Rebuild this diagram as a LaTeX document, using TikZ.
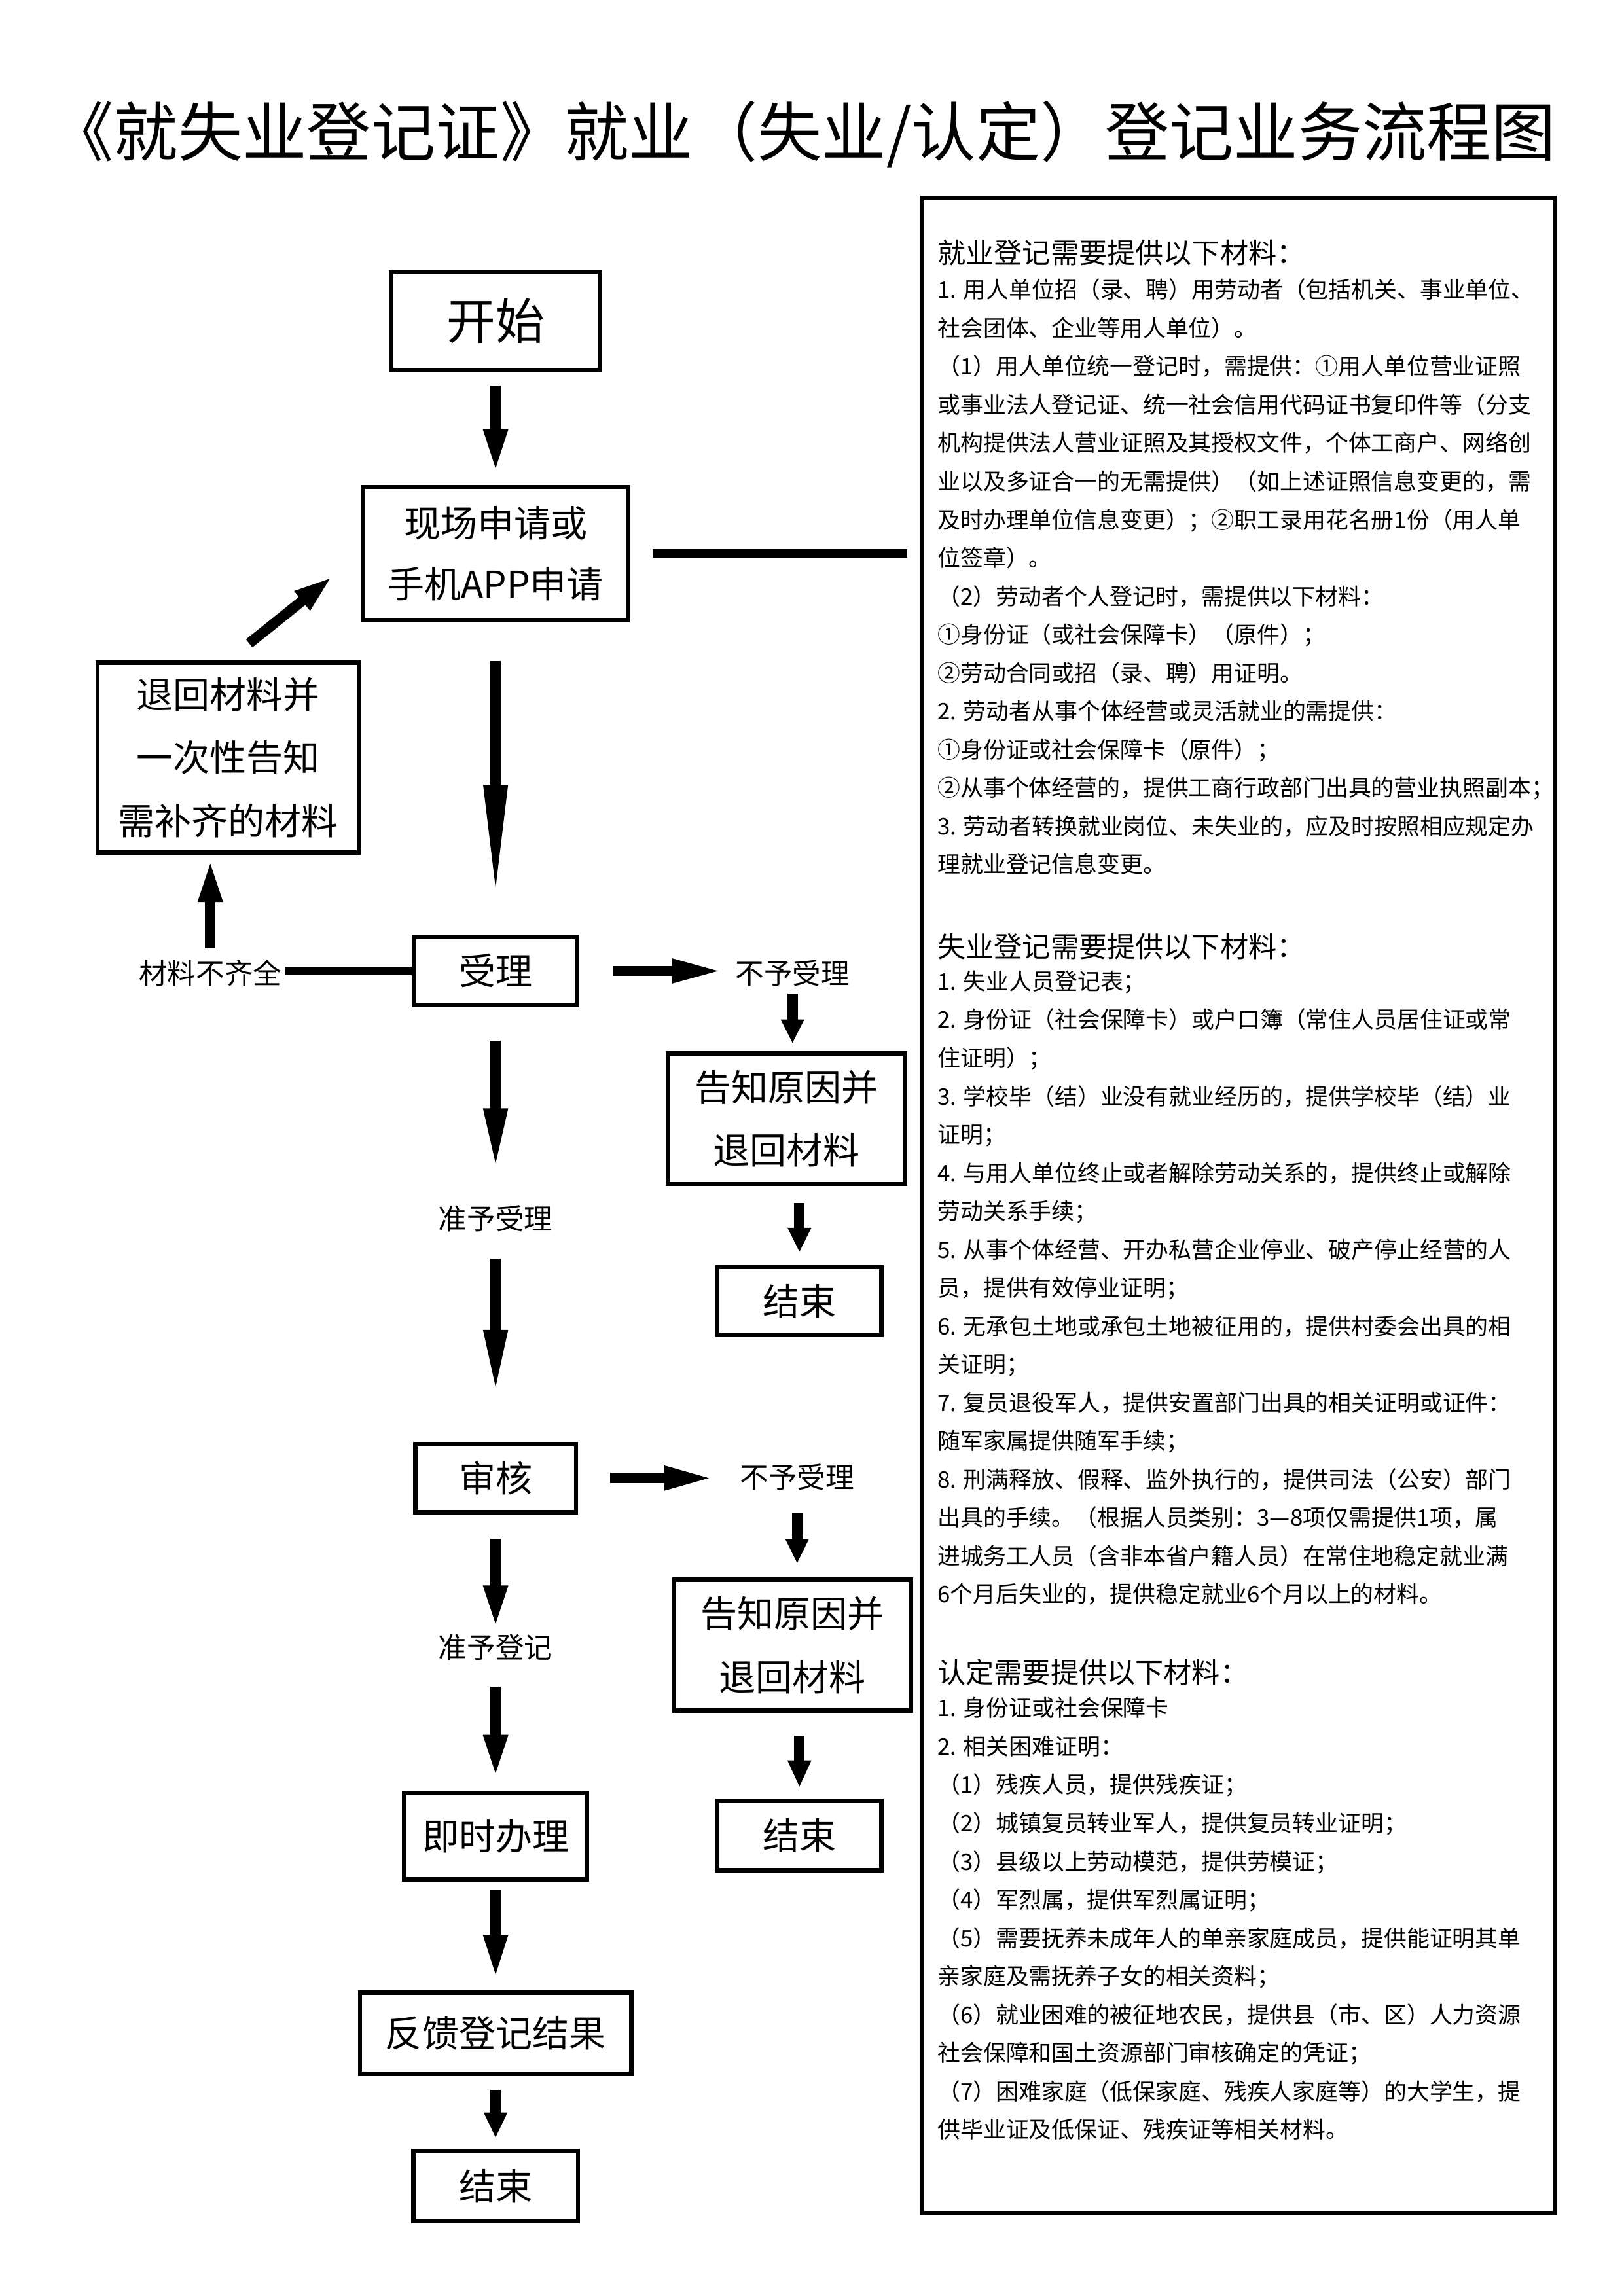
\documentclass[tikz,border=0pt]{standalone}
\usepackage{fontspec}
\setmainfont{Noto Sans CJK SC}
\usetikzlibrary{arrows.meta}

\begin{document}
\begin{tikzpicture}[
    regFlowBox/.style={draw, line width=1.6pt, inner sep=0pt, align=center,
        font=\fontsize{13.5}{22.5}\selectfont},
    regFlowLabel/.style={inner sep=1pt, font=\fontsize{10.5}{12}\selectfont},
    regFlowArrow/.style={line width=3.8pt, -{Triangle[length=#1, width=8pt]}},
    regFlowArrow/.default=0.56cm,
    regFlowLink/.style={line width=3.2pt},
    regFlowPanel/.style={draw, line width=1.4pt, inner sep=0pt},
    regFlowHead/.style={anchor=base west, inner sep=0pt,
        font=\fontsize{10.4}{12}\selectfont},
    regFlowBody/.style={anchor=north west, inner sep=0pt, align=left,
        font=\fontsize{8.4}{14.1}\selectfont}
]
    \useasboundingbox (0,0) rectangle (21,29.7);

    % 标题
    \node[font=\fontsize{23.7}{28}\selectfont] (title) at (10.38, 27.96)
        {《就失业登记证》就业（失业/认定）登记业务流程图};

    % 主流程
    \node[regFlowBox, minimum width=2.70cm, minimum height=1.27cm,
        font=\fontsize{18}{22}\selectfont] (start) at (6.41, 25.55) {开始};
    \node[regFlowBox, minimum width=3.42cm, minimum height=1.72cm] (apply)
        at (6.41, 22.54) {现场申请或\\手机APP申请};
    \node[regFlowBox, minimum width=2.11cm, minimum height=0.88cm] (accept)
        at (6.41, 17.14) {受理};
    \node[regFlowLabel] (grant1) at (6.41, 13.94) {准予受理};
    \node[regFlowBox, minimum width=2.08cm, minimum height=0.88cm] (review)
        at (6.41, 10.58) {审核};
    \node[regFlowLabel] (grant2) at (6.41, 8.39) {准予登记};
    \node[regFlowBox, minimum width=2.36cm, minimum height=1.12cm] (handle)
        at (6.41, 5.95) {即时办理};
    \node[regFlowBox, minimum width=3.51cm, minimum height=1.05cm] (feedback)
        at (6.41, 3.40) {反馈登记结果};
    \node[regFlowBox, minimum width=2.13cm, minimum height=0.91cm] (finish)
        at (6.41, 1.42) {结束};

    \draw[regFlowArrow=0.57cm, shorten <=0.17cm, shorten >=0.15cm] (start) -- (apply);
    \draw[regFlowArrow=1.49cm, shorten <=0.50cm, shorten >=0.45cm] (apply) -- (accept);
    \draw[regFlowArrow=0.80cm, shorten <=0.43cm, shorten >=0.41cm] (accept) -- (grant1);
    \draw[regFlowArrow=0.83cm, shorten <=0.31cm, shorten >=0.62cm] (grant1) -- (review);
    \draw[regFlowArrow, shorten <=0.32cm, shorten >=0.03cm] (review) -- (grant2);
    \draw[regFlowArrow, shorten <=0.30cm, shorten >=0.16cm] (grant2) -- (handle);
    \draw[regFlowArrow=0.58cm, shorten <=0.11cm, shorten >=0.14cm] (handle) -- (feedback);
    \draw[regFlowArrow=0.33cm, shorten <=0.18cm, shorten >=0.14cm] (feedback) -- (finish);

    % 材料不齐全
    \node[regFlowBox, minimum width=3.38cm, minimum height=2.46cm,
        font=\fontsize{13.5}{23.3}\selectfont] (back)
        at (2.95, 19.90) {退回材料并\\一次性告知\\需补齐的材料};
    \node[regFlowLabel] (lack) at (2.72, 17.11) {材料不齐全};

    \draw[regFlowLink] (accept.west) -- (accept.west -| lack.east);
    \draw[regFlowArrow, shorten <=0.11cm, shorten >=0.05cm]
        (lack.north) -- (lack.north |- back.south);
    \draw[regFlowArrow=0.51cm, shorten <=0.35cm, shorten >=0.47cm] (back.north) -- (apply.west);

    % 不予受理
    \node[regFlowLabel] (reject1) at (10.25, 17.11) {不予受理};
    \node[regFlowBox, minimum width=3.07cm, minimum height=1.69cm,
        font=\fontsize{13.5}{23.3}\selectfont] (tell1)
        at (10.17, 15.23) {告知原因并\\退回材料};
    \node[regFlowBox, minimum width=2.12cm, minimum height=0.88cm] (end1)
        at (10.34, 12.87) {结束};

    \draw[regFlowArrow=0.67cm, shorten <=0.43cm, shorten >=0.11cm]
        (accept.east) -- (accept.east -| reject1.west);
    \draw[regFlowArrow=0.31cm, shorten <=0.05cm, shorten >=0.10cm]
        (reject1.south) -- (reject1.south |- tell1.north);
    \draw[regFlowArrow=0.32cm, shorten <=0.22cm, shorten >=0.16cm]
        (end1.north |- tell1.south) -- (end1.north);

    \node[regFlowLabel] (reject2) at (10.31, 10.59) {不予受理};
    \node[regFlowBox, minimum width=3.06cm, minimum height=1.69cm,
        font=\fontsize{13.5}{23.3}\selectfont] (tell2)
        at (10.25, 8.42) {告知原因并\\退回材料};
    \node[regFlowBox, minimum width=2.12cm, minimum height=0.90cm] (end2)
        at (10.34, 5.96) {结束};

    \draw[regFlowArrow=0.65cm, shorten <=0.41cm, shorten >=0.29cm]
        (review.east) -- (review.east -| reject2.west);
    \draw[regFlowArrow=0.32cm, shorten <=0.25cm, shorten >=0.18cm]
        (reject2.south) -- (reject2.south |- tell2.north);
    \draw[regFlowArrow=0.35cm, shorten <=0.30cm, shorten >=0.14cm]
        (end2.north |- tell2.south) -- (end2.north);

    % 右侧材料说明
    \node[regFlowPanel, minimum width=8.18cm, minimum height=26.07cm] (panel)
        at (16.02, 14.11) {};
    \draw[regFlowLink, shorten <=0.29cm, shorten >=0.17cm]
        (apply.east) -- (apply.east -| panel.west);

    \node[regFlowHead] (empHead) at (12.12, 26.29) {就业登记需要提供以下材料：};
    \node[regFlowBody] (empBody) at (12.12, 26.10) {%
        1. 用人单位招（录、聘）用劳动者（包括机关、事业单位、\\
        社会团体、企业等用人单位）。\\
        （1）用人单位统一登记时，需提供：①用人单位营业证照\\
        或事业法人登记证、统一社会信用代码证书复印件等（分支\\
        机构提供法人营业证照及其授权文件，个体工商户、网络创\\
        业以及多证合一的无需提供）（如上述证照信息变更的，需\\
        及时办理单位信息变更）；②职工录用花名册1份（用人单\\
        位签章）。\\
        （2）劳动者个人登记时，需提供以下材料：\\
        ①身份证（或社会保障卡）（原件）；\\
        ②劳动合同或招（录、聘）用证明。\\
        2. 劳动者从事个体经营或灵活就业的需提供：\\
        ①身份证或社会保障卡（原件）；\\
        ②从事个体经营的，提供工商行政部门出具的营业执照副本；\\
        3. 劳动者转换就业岗位、未失业的，应及时按照相应规定办\\
        理就业登记信息变更。};

    \node[regFlowHead] (unempHead) at (12.12, 17.32) {失业登记需要提供以下材料：};
    \node[regFlowBody] (unempBody) at (12.12, 17.15) {%
        1. 失业人员登记表；\\
        2. 身份证（社会保障卡）或户口簿（常住人员居住证或常\\
        住证明）；\\
        3. 学校毕（结）业没有就业经历的，提供学校毕（结）业\\
        证明；\\
        4. 与用人单位终止或者解除劳动关系的，提供终止或解除\\
        劳动关系手续；\\
        5. 从事个体经营、开办私营企业停业、破产停止经营的人\\
        员，提供有效停业证明；\\
        6. 无承包土地或承包土地被征用的，提供村委会出具的相\\
        关证明；\\
        7. 复员退役军人，提供安置部门出具的相关证明或证件：\\
        随军家属提供随军手续；\\
        8. 刑满释放、假释、监外执行的，提供司法（公安）部门\\
        出具的手续。（根据人员类别：3—8项仅需提供1项，属\\
        进城务工人员（含非本省户籍人员）在常住地稳定就业满\\
        6个月后失业的，提供稳定就业6个月以上的材料。};

    \node[regFlowHead] (identHead) at (12.12, 7.93) {认定需要提供以下材料：};
    \node[regFlowBody] (identBody) at (12.12, 7.75) {%
        1. 身份证或社会保障卡\\
        2. 相关困难证明：\\
        （1）残疾人员，提供残疾证；\\
        （2）城镇复员转业军人，提供复员转业证明；\\
        （3）县级以上劳动模范，提供劳模证；\\
        （4）军烈属，提供军烈属证明；\\
        （5）需要抚养未成年人的单亲家庭成员，提供能证明其单\\
        亲家庭及需抚养子女的相关资料；\\
        （6）就业困难的被征地农民，提供县（市、区）人力资源\\
        社会保障和国土资源部门审核确定的凭证；\\
        （7）困难家庭（低保家庭、残疾人家庭等）的大学生，提\\
        供毕业证及低保证、残疾证等相关材料。};
\end{tikzpicture}
\end{document}
